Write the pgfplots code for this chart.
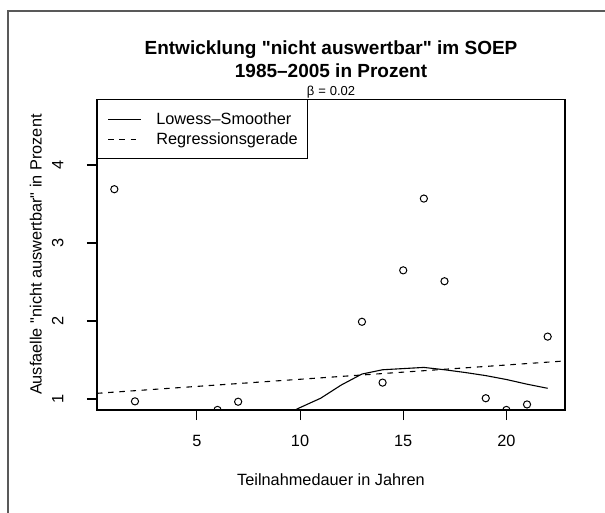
\documentclass[border=0pt]{standalone}
\usepackage{fontspec}
\setmainfont{Liberation Sans}[Ligatures=TeXOff]
\usepackage{pgfplots}
\pgfplotsset{compat=1.18}

% beobachtete Ausfaelle (Prozent) nach Teilnahmedauer
\pgfplotstableread{
x y
1 3.69
2 0.97
6 0.86
7 0.965
13 1.99
14 1.21
15 2.65
16 3.57
17 2.51
19 1.01
20 0.86
21 0.93
22 1.80
}\points

% lowess-Kurve
\pgfplotstableread{
x y
9 0.76
10 0.89
11 1.01
12 1.18
13 1.32
14 1.375
15 1.39
16 1.405
17 1.375
18 1.34
19 1.30
20 1.25
21 1.19
22 1.137
}\smooth

\newcommand{\normalfs}{\fontsize{16.3}{19}\selectfont}

\begin{document}
\begin{tikzpicture}
\path[use as bounding box] (0pt,0pt) rectangle (605pt,512pt);
\draw[black!65, line width=1.8pt] (7.7pt,501.3pt) rectangle (720pt,-100pt);

\begin{axis}[
    at={(97pt,102pt)}, anchor=south west,
    scale only axis, width=468pt, height=310.7pt,
    xmin=0.16, xmax=22.84, ymin=0.859, ymax=4.843,
    clip marker paths=true,
    xtick={5,10,15,20}, ytick={1,2,3,4},
    xtick pos=bottom, ytick pos=left,
    tick align=outside, major tick length=10pt,
    axis line style={line width=1.1pt},
    tick style={black, line width=1.1pt},
    /pgf/number format/assume math mode=true,
    ticklabel style={font=\normalfs},
    xticklabel style={anchor=base},
    xticklabel shift=26.7pt,
    yticklabel style={xshift=-23.7pt, rotate=90, anchor=base},
    xlabel={Teilnahmedauer in Jahren},
    ylabel={Ausfaelle "nicht auswertbar" in Prozent},
    label style={font=\normalfs},
    xlabel style={at={(axis description cs:0.5,-0.2414)}, anchor=base},
    ylabel style={at={(axis description cs:-0.1182,0.5)}, anchor=base},
    legend style={at={(0,1)}, anchor=north west, draw=black, line width=1.1pt,
        inner xsep=10pt, inner ysep=10.5pt, row sep=2pt,
        font=\normalfs,
        nodes={inner sep=0pt, text height=14pt, text depth=4pt},
        /tikz/every odd column/.append style={column sep=15pt}},
    legend cell align=left,
    legend image code/.code={\draw[#1] (0pt,0pt) -- (32.7pt,0pt);},
    ]
\addplot[only marks, mark=o, mark size=3.6pt, mark options={line width=1pt}, forget plot]
    table[x=x, y=y] {\points};
\addplot[black, line width=1.1pt] table[x=x, y=y] {\smooth};
\addlegendentry{Lowess–Smoother}
\addplot[black, line width=1.1pt, dash pattern=on 5.5pt off 5.7pt]
    coordinates {(0.16,1.073) (22.84,1.488)};
\addlegendentry{Regressionsgerade}
\end{axis}

\node[anchor=base, font=\fontsize{19}{22}\selectfont\bfseries] at (331pt,457pt)
    {Entwicklung "nicht auswertbar" im SOEP};
\node[anchor=base, font=\fontsize{19}{22}\selectfont\bfseries] at (331pt,434.7pt)
    {1985–2005 in Prozent};
\node[anchor=base, font=\fontsize{13}{15}\selectfont] at (331pt,416pt)
    {β\hspace{4pt}=\hspace{4pt}0.02};
\end{tikzpicture}
\end{document}
